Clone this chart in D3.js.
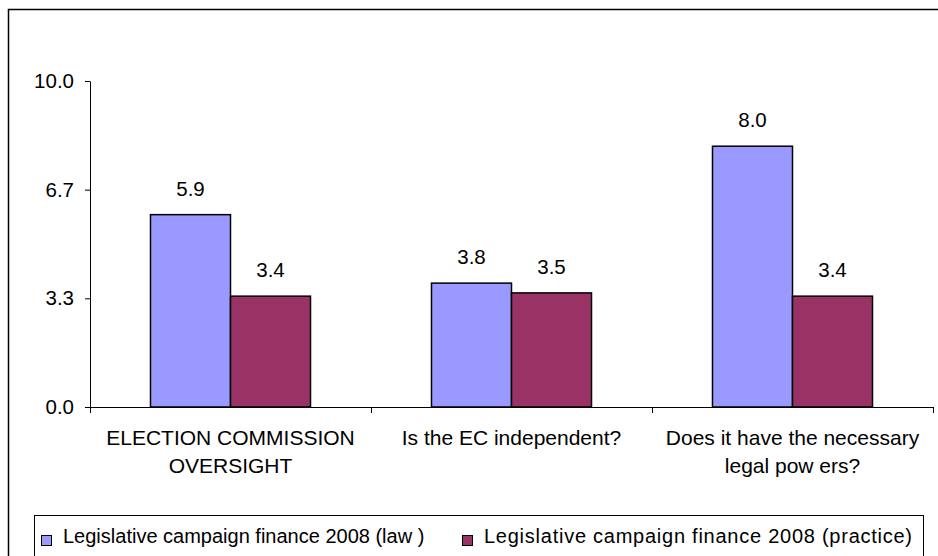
<!DOCTYPE html>
<html>
<head>
<meta charset="utf-8">
<script src="https://cdn.jsdelivr.net/npm/d3@7"></script>
<style>
  body { margin: 0; background: #fff; }
  svg { display: block; font-family: "Liberation Sans", Arial, sans-serif; }
</style>
</head>
<body>
<svg id="chart" width="938" height="556"></svg>
<script>
// categories, split into the lines they show under the axis
const categories = ["EC oversight", "EC independent", "Legal powers"];
const categoryLines = [
  ["ELECTION COMMISSION", "OVERSIGHT"],
  ["Is the EC independent?"],
  ["Does it have the necessary", "legal pow ers?"]
];
const seriesNames = [
  "Legislative campaign finance 2008 (law )",
  "Legislative campaign finance 2008 (practice)"
];
const lawValues = [5.9, 3.8, 8.0];
const practiceValues = [3.4, 3.5, 3.4];
const yTicks = [0, 10 / 3, 20 / 3, 10];
const colors = ["#9999ff", "#993366"];

const svg = d3.select("#chart");

// outer frame
svg.append("rect")
  .attr("x", 8.5).attr("y", 9.5)
  .attr("width", 960).attr("height", 600)
  .attr("fill", "none").attr("stroke", "#000").attr("stroke-width", 1.5);

const plotLeft = 90, plotRight = 933, plotTop = 81, plotBottom = 407;

const y = d3.scaleLinear().domain([0, 10]).range([plotBottom, plotTop]);

const x0 = d3.scaleBand().domain(categories).range([plotLeft, plotRight]).padding(0);

const x1 = d3.scaleBand()
  .domain(seriesNames)
  .range([0, x0.bandwidth()])
  .paddingInner(0)
  .paddingOuter(0.756);

// y axis
const yAxis = svg.append("g")
  .attr("transform", `translate(${plotLeft},0)`)
  .call(d3.axisLeft(y).tickValues(yTicks).tickFormat(d3.format(".1f"))
    .tickSize(5).tickSizeOuter(0).tickPadding(11));
yAxis.select(".domain").attr("stroke", "#000");
yAxis.selectAll("text")
  .attr("font-size", 20.5)
  .attr("font-family", "Liberation Sans, Arial, sans-serif")
  .attr("fill", "#000");

// x axis line and category boundary ticks
svg.append("line")
  .attr("x1", plotLeft).attr("x2", plotRight)
  .attr("y1", plotBottom + 0.5).attr("y2", plotBottom + 0.5)
  .attr("stroke", "#000");

const boundaries = [plotLeft].concat(categories.map((c) => x0(c) + x0.bandwidth()));
svg.selectAll(".xtick")
  .data(boundaries)
  .join("line")
  .attr("class", "xtick")
  .attr("x1", (d) => Math.round(d) + 0.5)
  .attr("x2", (d) => Math.round(d) + 0.5)
  .attr("y1", plotBottom)
  .attr("y2", plotBottom + 6)
  .attr("stroke", "#000");

// bars
const rows = categories.map((c, i) => ({
  cat: c,
  values: [lawValues[i], practiceValues[i]]
}));

const groups = svg.selectAll(".group")
  .data(rows)
  .join("g")
  .attr("class", "group")
  .attr("transform", (d) => `translate(${x0(d.cat)},0)`);

groups.selectAll("rect")
  .data((d) => d.values.map((v, j) => ({ v, s: seriesNames[j], j })))
  .join("rect")
  .attr("x", (d) => x1(d.s))
  .attr("y", (d) => y(d.v))
  .attr("width", x1.bandwidth())
  .attr("height", (d) => y(0) - y(d.v))
  .attr("fill", (d) => colors[d.j])
  .attr("stroke", "#000")
  .attr("stroke-width", 1.5);

groups.selectAll(".val")
  .data((d) => d.values.map((v, j) => ({ v, s: seriesNames[j] })))
  .join("text")
  .attr("class", "val")
  .attr("x", (d) => x1(d.s) + x1.bandwidth() / 2)
  .attr("y", (d) => y(d.v) - 19)
  .attr("text-anchor", "middle")
  .attr("font-size", 20.5)
  .text((d) => d3.format(".1f")(d.v));

// category labels
groups.selectAll(".cat")
  .data((d, i) => categoryLines[i])
  .join("text")
  .attr("class", "cat")
  .attr("x", x0.bandwidth() / 2)
  .attr("y", (d, k) => 445 + k * 28)
  .attr("text-anchor", "middle")
  .attr("font-size", 21)
  .text((d) => d);

// legend
svg.append("rect")
  .attr("x", 34.5).attr("y", 515.5)
  .attr("width", 889).attr("height", 60)
  .attr("fill", "#fff").attr("stroke", "#000");

const legendX = [41, 462];
const legend = svg.selectAll(".legend")
  .data(seriesNames)
  .join("g")
  .attr("class", "legend")
  .attr("transform", (d, i) => `translate(${legendX[i]},0)`);

legend.append("rect")
  .attr("x", 0.5).attr("y", 535.5)
  .attr("width", 10).attr("height", 10)
  .attr("fill", (d, i) => colors[i])
  .attr("stroke", "#000");

legend.append("text")
  .attr("x", 22)
  .attr("y", 543)
  .attr("font-size", 20)
  .attr("letter-spacing", (d, i) => (i === 1 ? 0.75 : 0))
  .text((d) => d);
</script>
</body>
</html>
